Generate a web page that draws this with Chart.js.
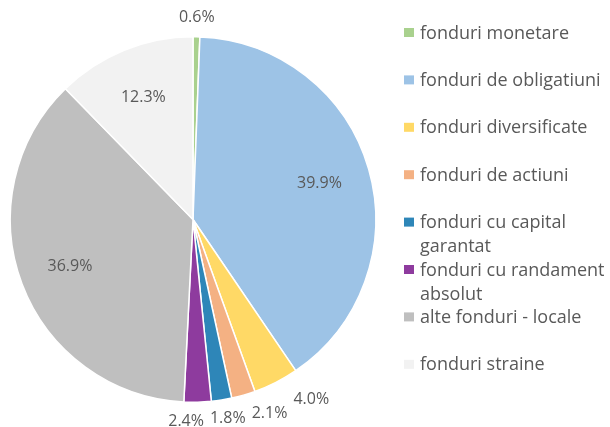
<!DOCTYPE html>
<html>
<head>
<meta charset="utf-8">
<script src="https://cdn.jsdelivr.net/npm/chart.js@4.4.1/dist/chart.umd.min.js"></script>
<style>
  html, body { margin: 0; padding: 0; background: #ffffff; }
  canvas { display: block; }
</style>
</head>
<body>
<canvas id="fundsChart" width="610" height="427"></canvas>
<script>
// categories and their share of total assets (%)
const categories = [
    "fonduri monetare",
    "fonduri de obligatiuni",
    "fonduri diversificate",
    "fonduri de actiuni",
    "fonduri cu capital garantat",
    "fonduri cu randament absolut",
    "alte fonduri - locale",
    "fonduri straine"
];
const shares = [0.6, 39.9, 4.0, 2.1, 1.8, 2.4, 36.9, 12.3];
const sliceColors = ["#a9d18e", "#9dc3e6", "#ffd966", "#f4b183", "#2e86b8", "#8e3b9e", "#bfbfbf", "#f2f2f2"];

const textColor = "#595959";
const fontFamily = "'Open Sans', sans-serif";

// percent labels, inside for big slices, outside for small ones
const sliceLabels = {
    id: "sliceLabels",
    afterDatasetsDraw(chart) {
        const ctx = chart.ctx;
        const arcs = chart.getDatasetMeta(0).data;
        ctx.save();
        ctx.font = "16px " + fontFamily;
        ctx.fillStyle = textColor;
        ctx.textAlign = "center";
        ctx.textBaseline = "middle";

        const placed = arcs.map((arc, i) => {
            const p = arc.getProps(["x", "y", "startAngle", "endAngle", "outerRadius"], true);
            const mid = (p.startAngle + p.endAngle) / 2;
            const inside = shares[i] >= 10;
            const r = inside ? p.outerRadius * 0.72 : p.outerRadius + 19;
            const text = shares[i].toFixed(1) + "%";
            return {
                text,
                inside,
                x: p.x + Math.cos(mid) * r,
                y: p.y + Math.sin(mid) * r,
                w: ctx.measureText(text).width + 6,
                h: 17
            };
        });

        // push overlapping outside labels apart, mostly towards the later one
        const outside = placed.filter(l => !l.inside).reverse();
        for (let k = 0; k < 30; k++) {
            for (let a = 0; a < outside.length; a++) {
                for (let b = a + 1; b < outside.length; b++) {
                    const A = outside[a], B = outside[b];
                    const dx = B.x - A.x, dy = B.y - A.y;
                    const needX = (A.w + B.w) / 2;
                    if (Math.abs(dx) < needX && Math.abs(dy) < (A.h + B.h) / 2) {
                        const push = needX - Math.abs(dx);
                        const s = dx >= 0 ? 1 : -1;
                        A.x -= s * push * 0.35;
                        B.x += s * push * 0.65;
                    }
                }
            }
        }

        placed.forEach(l => ctx.fillText(l.text, l.x, l.y));
        ctx.restore();
    }
};

// legend on the right, fixed row step, long names wrap
const sideLegend = {
    id: "sideLegend",
    afterDraw(chart) {
        const ctx = chart.ctx;
        const left = 404, textX = 420, top = 32.5, step = 47.4, maxW = 190, lineH = 24;
        ctx.save();
        ctx.font = "18px " + fontFamily;
        ctx.textBaseline = "middle";
        categories.forEach((name, i) => {
            const y = top + i * step;
            ctx.fillStyle = sliceColors[i];
            ctx.fillRect(left, y - 4.5, 10, 9);

            const words = name.split(" ");
            const lines = [];
            let cur = "";
            words.forEach(w => {
                const test = cur ? cur + " " + w : w;
                if (ctx.measureText(test).width > maxW && cur) {
                    lines.push(cur);
                    cur = w;
                } else {
                    cur = test;
                }
            });
            lines.push(cur);

            ctx.fillStyle = textColor;
            lines.forEach((ln, j) => ctx.fillText(ln, textX, y + 1 + j * lineH));
        });
        ctx.restore();
    }
};

new Chart(document.getElementById("fundsChart"), {
    type: "pie",
    data: {
        labels: categories,
        datasets: [{
            data: shares,
            backgroundColor: sliceColors,
            borderColor: "#ffffff",
            borderWidth: 1.5
        }]
    },
    options: {
        responsive: false,
        animation: false,
        layout: {
            padding: { left: 9, top: 36, right: 233, bottom: 24 }
        },
        plugins: {
            legend: { display: false },
            tooltip: { enabled: false }
        }
    },
    plugins: [sliceLabels, sideLegend]
});
</script>
</body>
</html>
